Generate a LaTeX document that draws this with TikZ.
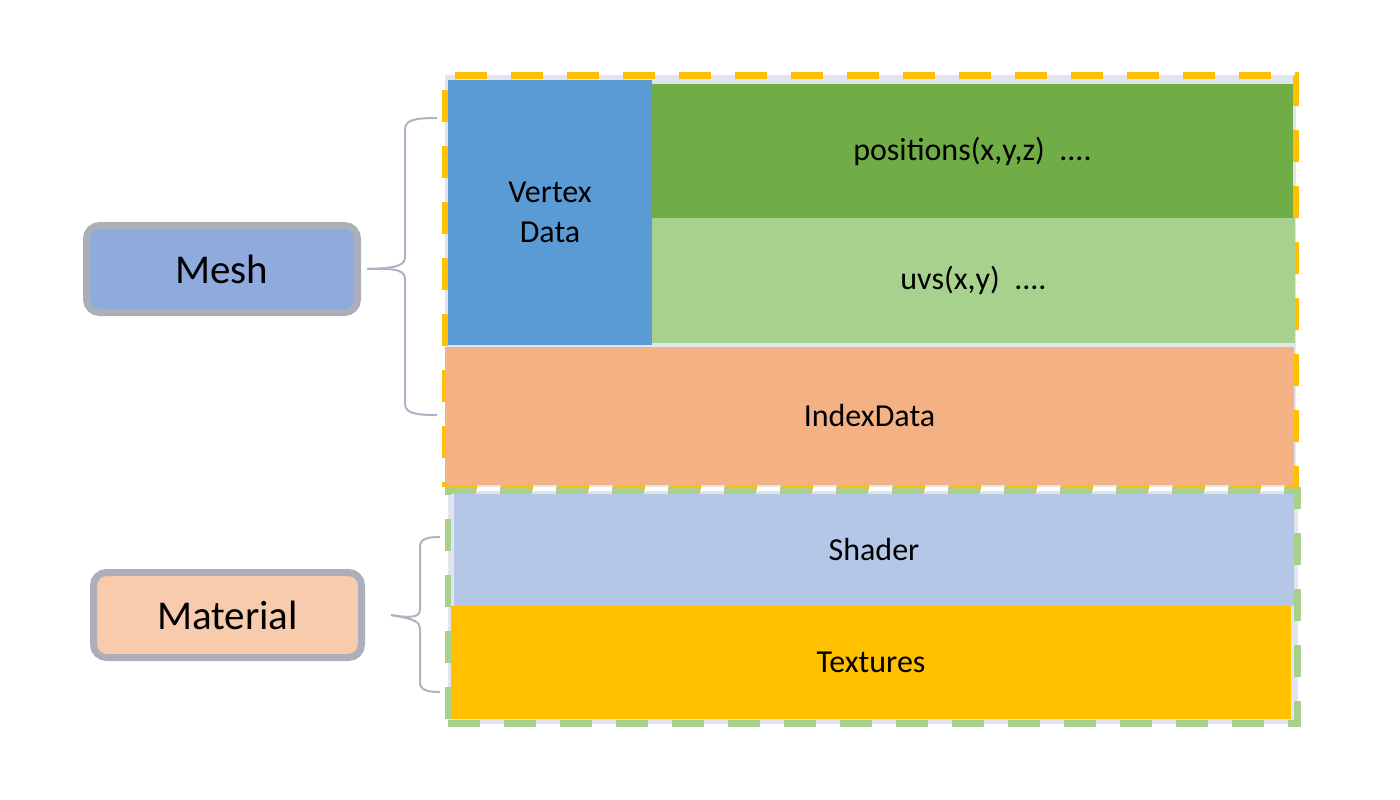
\documentclass[tikz,border=0pt]{standalone}
\usepackage{fontspec}
\setmainfont{Carlito}
\usetikzlibrary{positioning}

\definecolor{vertexblue}{HTML}{5B9BD5}
\definecolor{posgreen}{HTML}{70AD47}
\definecolor{uvgreen}{HTML}{A9D18E}
\definecolor{indexorange}{HTML}{F4B183}
\definecolor{shaderblue}{HTML}{B4C7E7}
\definecolor{texyellow}{HTML}{FFC000}
\definecolor{groupgrey}{HTML}{E1E5EE}
\definecolor{meshfill}{HTML}{8FAADC}
\definecolor{materialfill}{HTML}{F8CBAD}
\definecolor{tagline}{HTML}{AAAFBA}
\definecolor{braceline}{HTML}{ADB3C2}

\tikzset{
  part/.style={shape=rectangle,inner sep=0pt,draw=none,align=center,font=\fontsize{32}{40}\selectfont},
  groupframe/.style={shape=rectangle,inner sep=0pt,fill=groupgrey,line width=6.5pt,dash pattern=on 32pt off 24pt},
  tag/.style={shape=rectangle,rounded corners=13pt,draw=tagline,line width=7pt,inner sep=0pt,font=\fontsize{41}{48}\selectfont},
  brace/.style={draw=braceline,line width=2pt}
}

\begin{document}
\begin{tikzpicture}[x=1pt,y=-1pt]

\useasboundingbox (0,0) rectangle (1400,800);

% group frames
\node [groupframe,draw=texyellow,minimum width=851pt,minimum height=411.5pt] (meshgroup) at (870.5,281.25) {};
\node [groupframe,draw=uvgreen,minimum width=849.5pt,minimum height=233pt] (materialgroup) at (872.75,607) {};

% mesh parts
\node [part,fill=vertexblue,minimum width=204pt,minimum height=265pt] (vertex) at (550,212.5) {Vertex\\Data};
\node [part,fill=posgreen,minimum width=641pt,minimum height=134pt] (positions) at (972.5,151) {positions(x,y,z)~~....};
\node [part,fill=uvgreen,minimum width=643pt,minimum height=125pt] (uvs) at (973.5,280.5) {uvs(x,y)~~....};
\node [part,fill=indexorange,minimum width=849pt,minimum height=138pt] (index) at (869.5,416) {IndexData};

% material parts
\node [part,fill=shaderblue,minimum width=840pt,minimum height=112pt] (shader) at (874,550) {Shader};
\node [part,fill=texyellow,minimum width=840pt,minimum height=113pt] (textures) at (871,662.5) {Textures};

% tags
\node [tag,fill=meshfill,minimum width=271pt,minimum height=87pt] (mesh) at (222,269) {Mesh};
\node [tag,fill=materialfill,minimum width=268pt,minimum height=85pt] (material) at (227.5,615) {Material};

% braces
\coordinate (meshtop) at (437,118);
\coordinate (meshbot) at (437,415);
\coordinate (mattop) at (440,537);
\coordinate (matbot) at (440,692);

\draw [brace] (meshtop) .. controls (414,118) and (405,120) .. (405,130) -- (405,256)
  .. controls (405,265) and (400,268) .. ([xshift=6pt]mesh.east);
\draw [brace] (meshbot) .. controls (414,415) and (405,413) .. (405,403) -- (405,280)
  .. controls (405,271) and (400,268) .. ([xshift=6pt]mesh.east);

\draw [brace] (mattop) .. controls (427,537) and (420,539) .. (420,547) -- (420,609)
  .. controls (420,616) and (415,619) .. ([xshift=26pt]material.east);
\draw [brace] (matbot) .. controls (427,692) and (420,690) .. (420,682) -- (420,629)
  .. controls (420,622) and (415,619) .. ([xshift=26pt]material.east);

\end{tikzpicture}
\end{document}
